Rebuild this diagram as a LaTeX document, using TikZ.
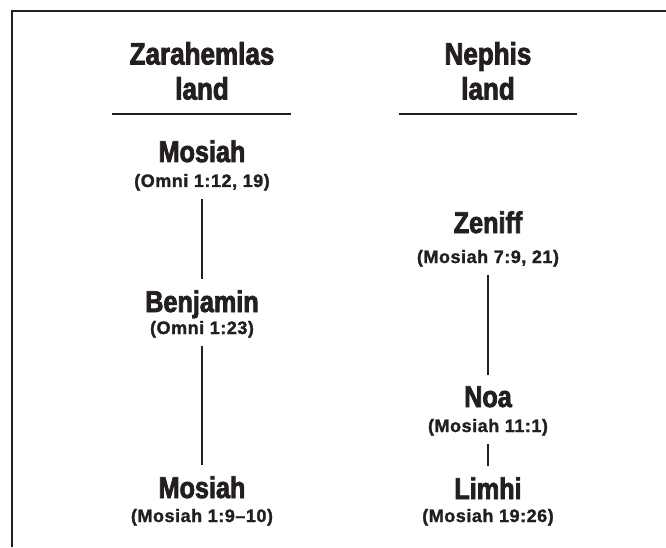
\documentclass[tikz,border=0pt]{standalone}
\usepackage{fontspec}
\usepackage{xcolor}
\usepackage{tikz}
\usetikzlibrary{positioning}
\newfontfamily\namefont{Liberation Sans}[BoldFont={* Bold},BoldFeatures={FakeBold=2.5},FakeStretch=0.84]
\newfontfamily\reffont{Liberation Sans}[BoldFont={* Bold},BoldFeatures={FakeBold=1.5},LetterSpace=3]
\definecolor{ink}{HTML}{231F20}

\begin{document}
\begin{tikzpicture}[x=1pt, y=1pt,
  land/.style={align=center, inner sep=0pt, anchor=south, text=ink, font=\namefont\bfseries\fontsize{31}{35}\selectfont},
  person/.style={inner sep=0pt, anchor=base, text=ink, font=\namefont\bfseries\fontsize{30}{30}\selectfont},
  verse/.style={inner sep=0pt, anchor=base, text=ink, font=\reffont\bfseries\fontsize{18}{18}\selectfont},
  bar/.style={draw=ink, line width=2.5pt},
  frame line/.style={draw=ink, line width=2pt},
  link/.style={draw=ink, line width=1.3pt, shorten <=8pt, shorten >=11pt}
]
\useasboundingbox (0,0) rectangle (666,547);
\draw[frame line] (666,536) -- (12,536) -- (12,0);

% the two lands
\node[land] (zl) at (202,447) {Zarahemlas\\land};
\node[land] (nl) at (488,447) {Nephis\\land};
\draw[bar] (112,433) -- (291,433);
\draw[bar] (399,433) -- (577,433);

% Zarahemlas land
\node[person] (a) at (202,385) {Mosiah};
\node[verse] (a1) at (202,360) {(Omni 1:12, 19)};
\node[person] (b) at (202,235) {Benjamin};
\node[verse] (b1) at (202,213) {(Omni 1:23)};
\node[person] (c) at (202,49) {Mosiah};
\node[verse] (c1) at (202,25) {(Mosiah 1:9–10)};
\draw[link] (a1) -- (b);
\draw[link] (b1) -- (c);

% Nephis land
\node[person] (d) at (488,314) {Zeniff};
\node[verse] (d1) at (488,284) {(Mosiah 7:9, 21)};
\node[person] (e) at (488,140) {Noa};
\node[verse] (e1) at (488,115) {(Mosiah 11:1)};
\node[person] (f) at (488,48) {Limhi};
\node[verse] (f1) at (488,25) {(Mosiah 19:26)};
\draw[link] (d1) -- (e);
\draw[link] (e1) -- (f);
\end{tikzpicture}
\end{document}
